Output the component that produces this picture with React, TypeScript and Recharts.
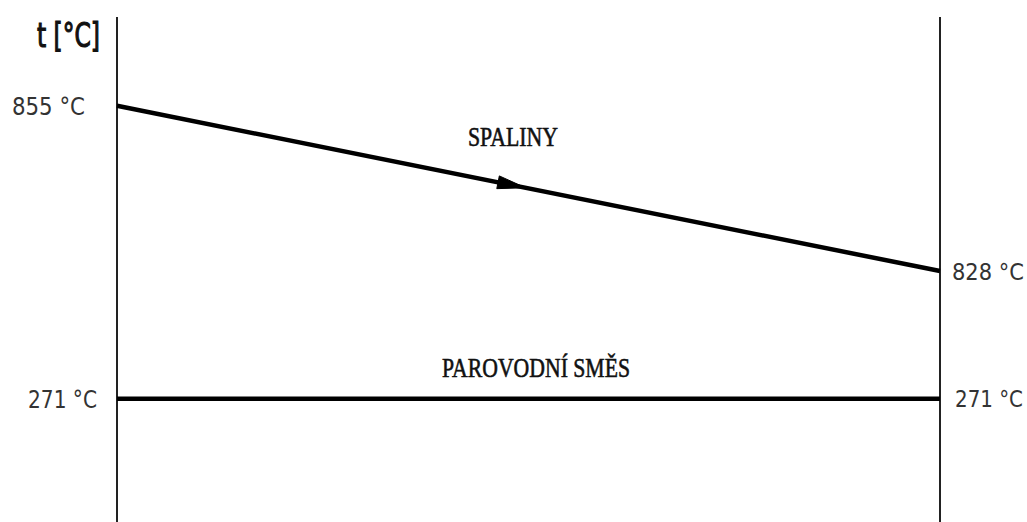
import React from 'react';
import { LineChart, Line, XAxis, YAxis, ReferenceLine, LabelList, Customized } from 'recharts';

// Heat exchanger temperature profile: flue gas vs. steam–water mixture
const positions = [0, 1]; // inlet side, outlet side
const flueGasTemps = [855, 828];
const steamWaterTemps = [271, 271];
const seriesNames = ['SPALINY', 'PAROVODNÍ SMĚS'];
const axisTitle = 't [°C]';
const unit = '°C';

const data = positions.map((x, i) => ({ x, gas: flueGasTemps[i], water: steamWaterTemps[i] }));

const numFont = "'Liberation Sans Narrow', 'DejaVu Sans Condensed', sans-serif";
const serifFont = "'Liberation Serif', 'DejaVu Serif', serif";

const makeEndLabel = (leftGap: number, rightGap: number, leftLen: number, rightLen: number) => (props: any) => {
  const { x, y, value, index } = props;
  const left = index === 0;
  return (
    <text
      x={left ? x - leftGap : x + rightGap}
      y={y}
      dy="0.37em"
      textAnchor={left ? 'end' : 'start'}
      fontFamily={numFont}
      fontSize={left ? 25 : 23}
      textLength={left ? leftLen : rightLen}
      lengthAdjust="spacingAndGlyphs"
      fill="#333"
    >
      {`${value} ${unit}`}
    </text>
  );
};

// Flow-direction arrowhead placed along the flue-gas segment
const GasArrow = (props: any) => {
  const { index, points } = props;
  if (index !== 1 || !points || points.length < 2) return <g key={`g-${index}`} />;
  const a = points[0];
  const b = points[1];
  const dx = b.x - a.x;
  const dy = b.y - a.y;
  const len = Math.hypot(dx, dy);
  const ux = dx / len;
  const uy = dy / len;
  const nx = -uy;
  const ny = ux;
  const t = 0.463;
  const bx = a.x + dx * t;
  const by = a.y + dy * t;
  const L = 28;
  const w = 6.5;
  const pts = [
    [bx + nx * w, by + ny * w],
    [bx + ux * L, by + uy * L],
    [bx - nx * w, by - ny * w],
  ]
    .map((p) => p.join(','))
    .join(' ');
  return <polygon key="arrow" points={pts} fill="#000" stroke="#000" strokeWidth={1} strokeLinejoin="round" />;
};

const Annotations = () => (
  <g>
    <text
      x={37}
      y={47}
      fontFamily={numFont}
      fontSize={33}
      textLength={63}
      lengthAdjust="spacingAndGlyphs"
      fill="#111"
      stroke="#111"
      strokeWidth={1.1}
    >
      {axisTitle}
    </text>
    <text
      x={468}
      y={146}
      fontFamily={serifFont}
      fontSize={27}
      textLength={90}
      lengthAdjust="spacingAndGlyphs"
      fill="#111"
      stroke="#111"
      strokeWidth={0.6}
    >
      {seriesNames[0]}
    </text>
    <text
      x={442}
      y={377}
      fontFamily={serifFont}
      fontSize={27}
      textLength={188}
      lengthAdjust="spacingAndGlyphs"
      fill="#111"
      stroke="#111"
      strokeWidth={0.6}
    >
      {seriesNames[1]}
    </text>
  </g>
);

export default function App() {
  return (
    <div style={{ position: 'absolute', left: 0, top: 0, background: '#fff' }}>
      <LineChart width={1027} height={522} data={data} margin={{ top: 17, right: 87, bottom: 0, left: 117 }}>
        <XAxis type="number" dataKey="x" domain={[0, 1]} hide />
        <YAxis yAxisId="gas" type="number" domain={[787, 869.5]} hide />
        <YAxis yAxisId="water" type="number" domain={[0, 1110]} hide />
        <ReferenceLine x={0} yAxisId="gas" stroke="#222" strokeWidth={2} />
        <ReferenceLine x={1} yAxisId="gas" stroke="#222" strokeWidth={2} />
        <Line
          yAxisId="gas"
          dataKey="gas"
          type="linear"
          stroke="#000"
          strokeWidth={4.5}
          dot={GasArrow}
          activeDot={false}
          isAnimationActive={false}
        >
          <LabelList dataKey="gas" content={makeEndLabel(32, 12, 73, 72)} />
        </Line>
        <Line
          yAxisId="water"
          dataKey="water"
          type="linear"
          stroke="#000"
          strokeWidth={4.5}
          dot={false}
          activeDot={false}
          isAnimationActive={false}
        >
          <LabelList dataKey="water" content={makeEndLabel(20, 15, 69, 68)} />
        </Line>
        <Customized component={Annotations} />
      </LineChart>
    </div>
  );
}
